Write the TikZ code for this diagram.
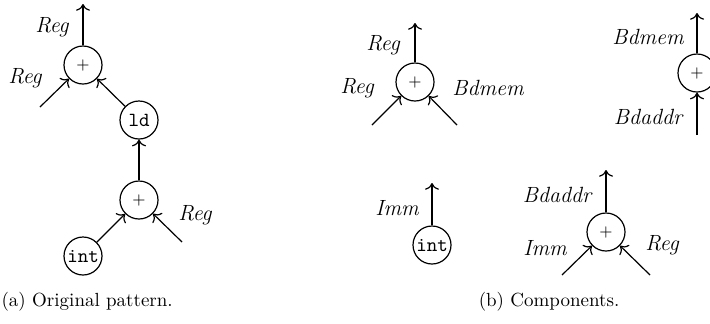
\documentclass[tikz,border=0pt]{standalone}
\usetikzlibrary{positioning,arrows.meta}
\tikzset{
  op/.style={draw, circle, inner sep=0.5pt, minimum size=19pt},
  lbl/.style={font=\fontsize{11}{13}\selectfont\itshape},
  captxt/.style={font=\fontsize{9.5}{11}\selectfont},
}
\begin{document}
\begin{tikzpicture}[x=0.5pt,y=-0.5pt,line width=0.6pt,>={To[scale=1.15]}]
\useasboundingbox (0,0) rectangle (710,323);

% (a) original pattern
\node[op] (a1) at (83,65) {\footnotesize +};
\node[op] (ald) at (139,120) {\texttt{ld}};
\node[op] (a2) at (139,200) {\footnotesize +};
\node[op] (aint) at (83,256) {\texttt{int}};
\coordinate (aout) at (83,4);
\coordinate (ain1) at (40,107);
\coordinate (ain2) at (182,242);

\draw[->] (a1) -- (aout);
\draw[->] (ain1) -- (a1);
\draw[->] (ald) -- (a1);
\draw[->] (a2) -- (ald);
\draw[->] (aint) -- (a2);
\draw[->] (ain2) -- (a2);

\node[lbl] (la1) at (52,27) {Reg};
\node[lbl] (la2) at (25,78) {Reg};
\node[lbl] (la3) at (195,215) {Reg};

% (b) components
\node[op] (b1) at (415,82) {\footnotesize +};
\coordinate (bout1) at (415,23);
\coordinate (bin1) at (372,125);
\coordinate (bin2) at (457,125);
\draw[->] (b1) -- (bout1);
\draw[->] (bin1) -- (b1);
\draw[->] (bin2) -- (b1);
\node[lbl] (lb1) at (383,45) {Reg};
\node[lbl] (lb2) at (357,88) {Reg};
\node[lbl] (lb3) at (488,88) {Bdmem};

\node[op] (b2) at (697,73) {\footnotesize +};
\coordinate (bout2) at (697,13);
\coordinate (bin3) at (697,135);
\draw[->] (b2) -- (bout2);
\draw[->] (bin3) -- (b2);
\node[lbl] (lb4) at (648,37) {Bdmem};
\node[lbl] (lb5) at (648,117) {Bdaddr};

\node[op] (b3) at (432,245) {\texttt{int}};
\coordinate (bout3) at (432,183);
\draw[->] (b3) -- (bout3);
\node[lbl] (lb6) at (397,208) {Imm};

\node[op] (b4) at (606,232) {\footnotesize +};
\coordinate (bout4) at (606,170);
\coordinate (bin4) at (562,275);
\coordinate (bin5) at (650,275);
\draw[->] (b4) -- (bout4);
\draw[->] (bin4) -- (b4);
\draw[->] (bin5) -- (b4);
\node[lbl] (lb7) at (557,195) {Bdaddr};
\node[lbl] (lb8) at (545,248) {Imm};
\node[lbl] (lb9) at (662,245) {Reg};

% captions
\node[captxt, anchor=west, inner sep=0pt] (capa) at (1,302) {(a) Original pattern.};
\node[captxt] (capb) at (549,302) {(b) Components.};
\end{tikzpicture}
\end{document}
